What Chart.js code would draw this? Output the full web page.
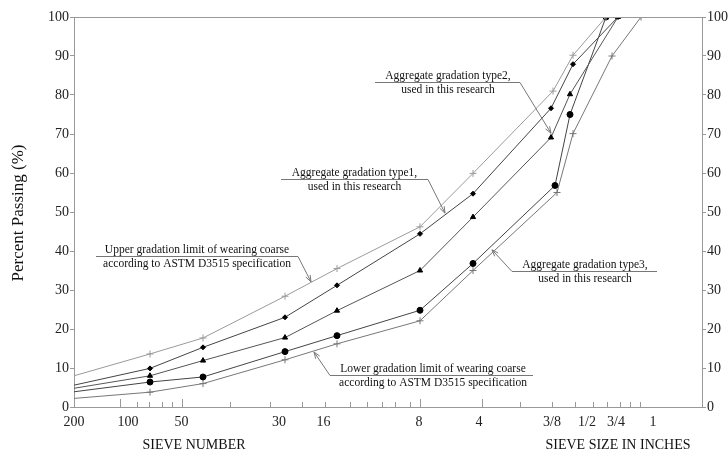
<!DOCTYPE html>
<html>
<head>
<meta charset="utf-8">
<script src="https://cdn.jsdelivr.net/npm/chart.js@4.4.1/dist/chart.umd.min.js"></script>
<style>
  html, body { margin: 0; padding: 0; background: #fff; }
  #wrap { width: 728px; height: 452px; }
</style>
</head>
<body>
<div id="wrap"><canvas id="grad" width="728" height="452"></canvas></div>
<script>
// x = position along the sieve axis (0 = No. 200 ... 628 = right edge of the chart)
const xLabelPos  = [0, 54, 107.5, 205, 249.5, 345, 405, 478, 513, 542, 579];
const xLabelText = ['200', '100', '50', '30', '16', '8', '4', '3/8', '1/2', '3/4', '1'];
const xTickMarks = [46, 63, 75, 88, 98, 108, 156, 196, 228, 251, 276, 293, 308, 321, 336, 346, 408, 446, 478, 501, 519, 533, 546, 556, 566];
const xTickMajor = [46, 108, 346, 408];

const xUpper = [0, 76, 129, 211, 263, 346, 399, 479, 499, 532];
const yUpper = [8.0, 13.6, 17.7, 28.4, 35.5, 46.2, 59.9, 81.0, 90.2, 100];
const xType1 = [0, 76, 129, 211, 263, 346, 399, 477, 499, 544];
const yType1 = [5.6, 9.9, 15.3, 23.0, 31.2, 44.4, 54.7, 76.6, 87.9, 100];
const xType2 = [0, 76, 129, 211, 263, 346, 399, 477, 496, 544];
const yType2 = [4.8, 8.0, 11.9, 17.8, 24.7, 35.0, 48.7, 69.1, 80.2, 100];
const xType3 = [0, 76, 129, 211, 263, 346, 399, 481, 496, 532];
const yType3 = [3.9, 6.4, 7.7, 14.2, 18.3, 24.8, 36.8, 56.8, 75.0, 100];
const xLower = [0, 76, 129, 211, 263, 346, 399, 483, 499, 538, 567];
const yLower = [2.2, 3.8, 6.0, 12.1, 16.2, 22.1, 35.0, 55.0, 70.1, 90.0, 100];

// callouts: text, underline span (x from..to at y), and arrow tip
const notes = [
  { lines: ['Upper gradation limit of wearing coarse', 'according to ASTM D3515 specification'], cx: 123, from: 22, to: 224, y: 38.7, tip: [237, 32.1], side: 'right' },
  { lines: ['Aggregate gradation type1,', 'used in this research'], cx: 280.5, from: 207, to: 354, y: 58.5, tip: [371, 49.7], side: 'right' },
  { lines: ['Aggregate gradation type2,', 'used in this research'], cx: 374, from: 301, to: 446, y: 83.3, tip: [477, 70.2], side: 'right' },
  { lines: ['Aggregate gradation type3,', 'used in this research'], cx: 511, from: 438, to: 583, y: 34.9, tip: [418, 40.3], side: 'left' },
  { lines: ['Lower gradation limit of wearing coarse', 'according to ASTM D3515 specification'], cx: 359, from: 256, to: 459, y: 8.2, tip: [240, 14.1], side: 'left' }
];

const serif = "'Liberation Serif', 'Times New Roman', serif";
Chart.defaults.font.family = serif;
Chart.defaults.color = '#222';

const pts = (xs, ys) => xs.map((x, i) => ({ x, y: ys[i] }));
const noFirst = r => ctx => ctx.dataIndex === 0 ? 0 : r;

function series(label, xs, ys, color, style, r) {
  const filled = style !== 'cross';
  return {
    label, data: pts(xs, ys), borderColor: color, borderWidth: 1, fill: false, tension: 0,
    pointStyle: style, pointRadius: noFirst(r),
    pointBackgroundColor: filled ? '#000' : color,
    pointBorderColor: filled ? '#000' : color,
    pointBorderWidth: 1
  };
}

const decor = {
  id: 'decor',
  afterDraw(chart) {
    const { ctx, chartArea: a, scales: { x, y } } = chart;
    ctx.save();
    ctx.strokeStyle = '#999';
    ctx.lineWidth = 1;
    // top frame line
    ctx.beginPath();
    ctx.moveTo(a.left, a.top + 0.5); ctx.lineTo(a.right, a.top + 0.5);
    ctx.stroke();
    // inward x tick marks
    xTickMarks.forEach(v => {
      const px = Math.round(x.getPixelForValue(v)) + 0.5;
      const len = xTickMajor.includes(v) ? 8 : 5;
      ctx.beginPath();
      ctx.moveTo(px, a.bottom); ctx.lineTo(px, a.bottom - len);
      ctx.stroke();
    });

    // callouts
    ctx.strokeStyle = '#777';
    ctx.fillStyle = '#111';
    ctx.font = '11.5px ' + serif;
    ctx.textAlign = 'center';
    ctx.textBaseline = 'middle';
    notes.forEach(n => {
      const uy = Math.round(y.getPixelForValue(n.y)) + 0.5;
      const x0 = x.getPixelForValue(n.from), x1 = x.getPixelForValue(n.to);
      ctx.beginPath();
      ctx.moveTo(x0, uy); ctx.lineTo(x1, uy);
      const sx = n.side === 'right' ? x1 : x0;
      const tx = x.getPixelForValue(n.tip[0]), ty = y.getPixelForValue(n.tip[1]);
      ctx.moveTo(sx, uy); ctx.lineTo(tx, ty);
      const ang = Math.atan2(ty - uy, tx - sx);
      [0.35, -0.35].forEach(d => {
        ctx.moveTo(tx, ty);
        ctx.lineTo(tx - 7 * Math.cos(ang + d), ty - 7 * Math.sin(ang + d));
      });
      ctx.stroke();
      const cx = x.getPixelForValue(n.cx);
      ctx.fillText(n.lines[0], cx, uy - 7);
      ctx.fillText(n.lines[1], cx, uy + 7);
    });

    // axis titles
    ctx.fillStyle = '#111';
    ctx.font = '14px ' + serif;
    ctx.fillText('SIEVE NUMBER', 194, 445);
    ctx.fillText('SIEVE SIZE IN INCHES', 618, 445);
    ctx.font = '17px ' + serif;
    ctx.translate(19, 213);
    ctx.rotate(-Math.PI / 2);
    ctx.fillText('Percent Passing (%)', 0, 0);
    ctx.restore();
  }
};

const yTicks = { stepSize: 10, font: { size: 14 }, color: '#222', padding: 1 };

new Chart(document.getElementById('grad'), {
  type: 'line',
  data: {
    datasets: [
      series('Upper limit', xUpper, yUpper, '#9a9a9a', 'cross', 3.5),
      series('Type 1', xType1, yType1, '#444', 'rectRot', 2.5),
      series('Type 2', xType2, yType2, '#555', 'triangle', 3),
      series('Type 3', xType3, yType3, '#444', 'circle', 3),
      series('Lower limit', xLower, yLower, '#777', 'cross', 3.5)
    ]
  },
  options: {
    responsive: false,
    animation: false,
    layout: { padding: { top: 17, left: 0, right: 0, bottom: 0 } },
    plugins: { legend: { display: false }, tooltip: { enabled: false } },
    scales: {
      x: {
        type: 'linear', min: 0, max: 628,
        afterBuildTicks: s => { s.ticks = xLabelPos.map(v => ({ value: v })); },
        afterFit: s => { s.height = 45; },
        ticks: { autoSkip: false, maxRotation: 0, padding: 7, font: { size: 14 }, color: '#222',
                 callback: (v, i) => xLabelText[i] },
        grid: { display: true, drawOnChartArea: false, drawTicks: false },
        border: { color: '#999' }
      },
      y: {
        position: 'left', min: 0, max: 100,
        afterFit: s => { s.width = 74; },
        ticks: yTicks,
        grid: { drawOnChartArea: false, tickLength: 4, color: '#999' },
        border: { color: '#999' }
      },
      y2: {
        position: 'right', min: 0, max: 100,
        afterFit: s => { s.width = 26; },
        ticks: yTicks,
        grid: { drawOnChartArea: false, tickLength: 4, color: '#999' },
        border: { color: '#999' }
      }
    }
  },
  plugins: [decor]
});
</script>
</body>
</html>
